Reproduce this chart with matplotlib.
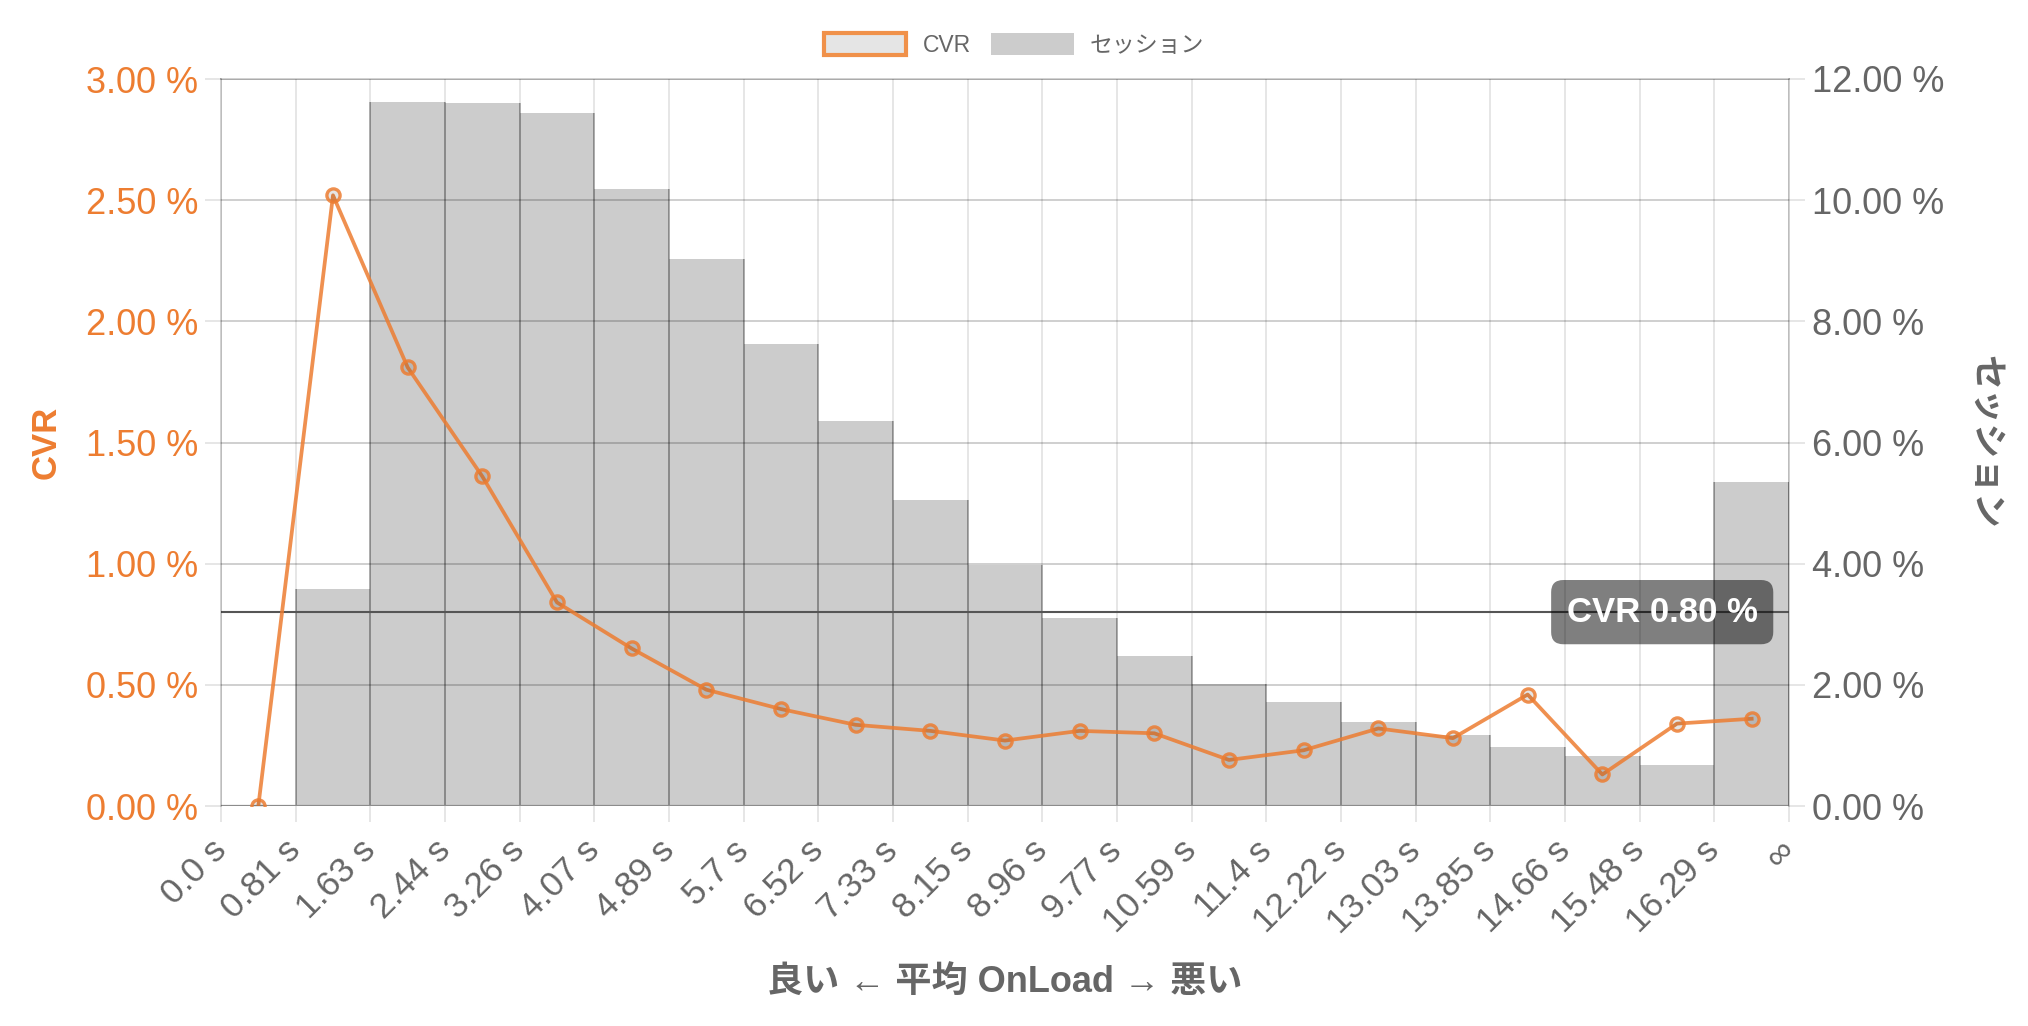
import matplotlib
matplotlib.use("Agg")
import matplotlib.pyplot as plt
from matplotlib.patches import Patch
import numpy as np

plt.rcParams['font.family'] = ['Liberation Sans', 'Noto Sans CJK JP', 'DejaVu Sans']

# ---- data ----
edge_labels = ["0.0 s", "0.81 s", "1.63 s", "2.44 s", "3.26 s", "4.07 s", "4.89 s",
               "5.7 s", "6.52 s", "7.33 s", "8.15 s", "8.96 s", "9.77 s", "10.59 s",
               "11.4 s", "12.22 s", "13.03 s", "13.85 s", "14.66 s", "15.48 s",
               "16.29 s", "∞"]
cvr = [0.00, 2.52, 1.81, 1.36, 0.84, 0.65, 0.48, 0.40, 0.335, 0.31, 0.27,
       0.31, 0.30, 0.19, 0.23, 0.32, 0.28, 0.46, 0.13, 0.34, 0.36]
sessions = [0.0, 3.59, 11.62, 11.60, 11.44, 10.19, 9.03, 7.63, 6.35, 5.05, 3.98,
            3.10, 2.47, 2.01, 1.71, 1.39, 1.18, 0.97, 0.82, 0.67, 5.34]
cvr_ref = 0.80
cvr_ticks = [0.0, 0.5, 1.0, 1.5, 2.0, 2.5, 3.0]
ses_ticks = [0, 2, 4, 6, 8, 10, 12]

ORANGE = '#ED7D31'
ORANGE_LINE = (237 / 255, 125 / 255, 49 / 255, 0.85)
GRAY = '#666666'

W, H = 2028, 1026
fig = plt.figure(figsize=(W / 100, H / 100), dpi=100)
L, R, T, B = 221, 1789, 79, 806
axS = fig.add_axes([L / W, 1 - B / H, (R - L) / W, (B - T) / H])
axC = axS.twinx()

n = len(cvr)
centers = np.arange(n) + 0.5
edges = np.arange(n + 1)

# sessions bars (right axis)
axS.bar(centers, sessions, width=1.0, color='#cccccc', linewidth=0, zorder=1)
seam_h = [max(sessions[i - 1] if i > 0 else 0, sessions[i] if i < n else 0) for i in range(n + 1)]
axS.vlines(edges, 0, seam_h, colors='black', alpha=0.27, linewidth=1.3, zorder=2)
axS.set_ylim(0, 12)
axS.set_xlim(0, n)
axS.yaxis.tick_right()
axS.set_yticks(ses_ticks)
axS.set_yticklabels([f"{v:.2f} %" for v in ses_ticks])
axS.set_xticks(edges)
axS.set_xticklabels(edge_labels)

# CVR line (left axis)
axC.xaxis.set_visible(True)
axC.yaxis.tick_left()
axC.set_ylim(0, 3)
axC.set_yticks(cvr_ticks)
axC.set_yticklabels([f"{v:.2f} %" for v in cvr_ticks])
axC.set_xticks(edges)
axC.tick_params(axis='x', labelbottom=False, length=0)
axC.set_axisbelow(True)
axC.grid(axis='y', color='black', alpha=0.19, linewidth=1.4)
axC.grid(axis='x', color='black', alpha=0.10, linewidth=1.4)
axC.axhline(0, color='#8c8c8c', linewidth=1.6, zorder=1.5)
axC.axhline(cvr_ref, color='#555555', linewidth=1.5, zorder=1.6)
axC.plot(centers, cvr, color=ORANGE_LINE, linewidth=2.7, marker='o',
         markersize=9.5, markeredgewidth=2.4, markerfacecolor=(0, 0, 0, 0.1),
         markeredgecolor=ORANGE_LINE, zorder=3)

for s in axS.spines.values():
    s.set_visible(False)
for s in axC.spines.values():
    s.set_color('black')
    s.set_alpha(0.18)
    s.set_linewidth(1.4)
axC.spines['bottom'].set_visible(False)

axS.tick_params(axis='both', length=11.5, width=1.4, color='#e6e6e6')
axC.tick_params(axis='y', length=11.5, width=1.4, color='#e6e6e6')

axC.tick_params(axis='y', labelsize=26, labelcolor=ORANGE, pad=5)
axS.tick_params(axis='y', labelsize=26, labelcolor=GRAY, pad=5)
axS.tick_params(axis='x', labelsize=25.5, labelcolor=GRAY, pad=17)
for lab in axS.get_xticklabels():
    lab.set_rotation(45)
    lab.set_rotation_mode('anchor')
    lab.set_ha('right')
    lab.set_va('center')

# reference label box
axC.text(0.980, cvr_ref, "CVR 0.80 %", transform=axC.get_yaxis_transform(),
         ha='right', va='center', color='white', fontsize=25, fontweight='bold',
         zorder=5,
         bbox=dict(boxstyle='round,pad=0.45,rounding_size=0.35',
                   facecolor=(0, 0, 0, 0.5), edgecolor='none'))

# axis titles
fig.text(46 / W, 1 - 442 / H, "CVR", rotation=90, ha='center', va='center',
         color=ORANGE, fontsize=25, fontweight='bold')
fig.text(1985 / W, 1 - 442 / H, "セッション", rotation=270, ha='center', va='center',
         color=GRAY, fontsize=25, fontweight='bold')
fig.text((L + R) / 2 / W, 1 - 982 / H, "良い ← 平均 OnLoad → 悪い", ha='center',
         va='center', color=GRAY, fontsize=26, fontweight='bold')

# legend
handles = [Patch(facecolor='#e5e5e5', edgecolor='#F0914A', linewidth=3, label='CVR'),
           Patch(facecolor='#cccccc', edgecolor='none', label='セッション')]
leg = fig.legend(handles=handles, loc='center', bbox_to_anchor=(1014 / W, 1 - 45 / H),
                 ncol=2, frameon=False, fontsize=16.5, handlelength=3.6,
                 handleheight=1.1, handletextpad=0.7, columnspacing=0.9)
for t in leg.get_texts():
    t.set_color(GRAY)

fig.savefig("out.png", dpi=100)
